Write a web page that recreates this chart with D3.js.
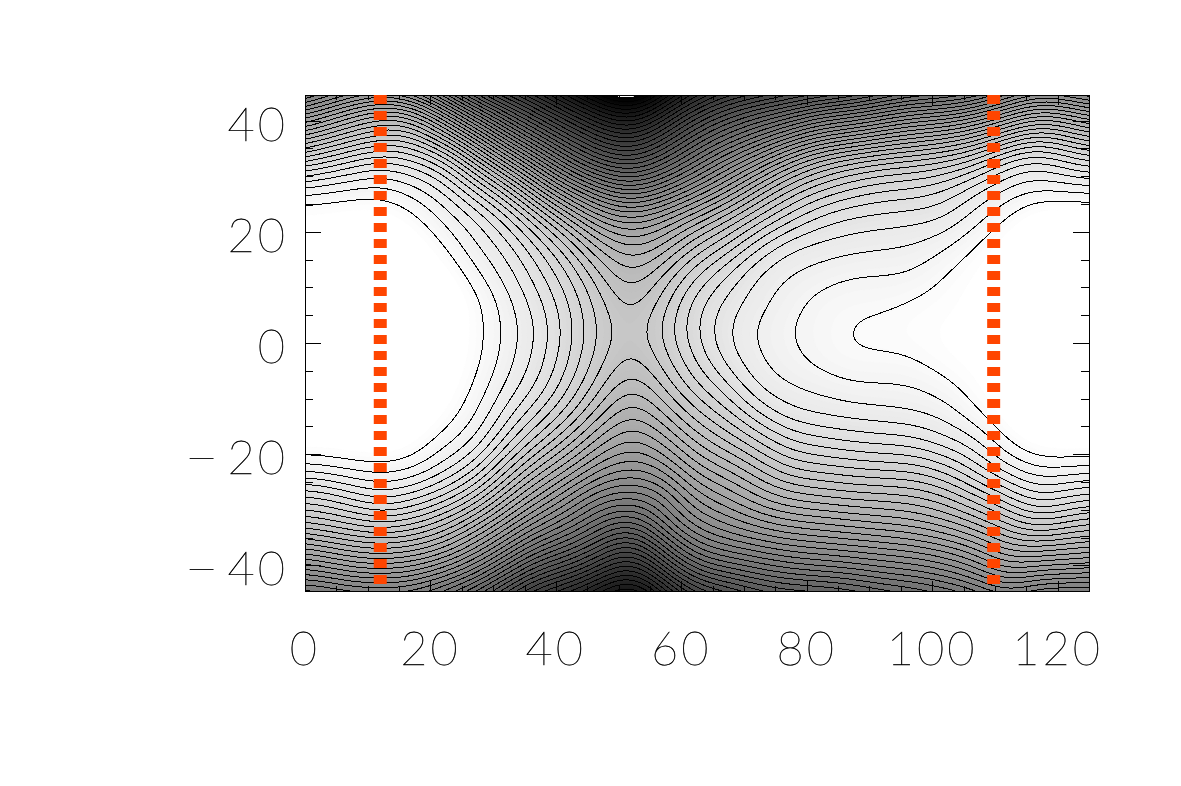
<!DOCTYPE html>
<html><head><meta charset="utf-8">
<script src="https://cdn.jsdelivr.net/npm/d3@7"></script>
<style>
html,body{margin:0;padding:0;background:#fff;overflow:hidden}
svg{display:block}
.lbl{filter:grayscale(1)}
.lbl text{font-family:Lato,Roboto,sans-serif;font-weight:100;font-size:47px;fill:#000;stroke:#000;stroke-width:0.45px;letter-spacing:3px;text-rendering:geometricPrecision}
</style></head><body>
<script>
// Axis tick labels
const xMajor = [0,20,40,60,80,100,120];
const xMinor = [5,10,15,25,30,35,45,50,55,65,70,75,85,90,95,105,110,115,125];
const yMajor = [-40,-20,0,20,40];
const yMinor = [-35,-30,-25,-15,-10,-5,5,10,15,25,30,35];
// Positions of the two dashed markers
const markers = [12,109.8];
// Field sample positions
const gridX = [-3,2,7,12,17,22,27,32,37,42,47,52,57,62,67,72,77,82,87,92,97,102,107,112,117,122,127];
const gridY = [47.5,42.5,37.5,32.5,27.5,22.5,17.5,12.5,7.5,2.5,-2.5,-7.5,-12.5,-17.5,-22.5,-27.5,-32.5,-37.5,-42.5,-47.5];
// Field values per row, in units of one contour interval
const rowP475 = [29,27,25,24,26,30,35,39,42,46,50,53,48,43,40,38.5,37,36,35,33,31.5,31,30,27,25,26,27];
const rowP425 = [22,20,17.5,15.6,16.5,21.5,27,31.5,35.5,39.5,43,45.6,41,36.5,33.5,31.5,30,28,27,25.5,24,23.5,22,19.5,17,18,20];
const rowP375 = [15,13.5,11.5,10,10.2,14,19,24.5,29,33,36.5,38.4,35,31,28,25.5,23,20.5,19.5,18,16.8,16,14.5,12,10,11.5,13];
const rowP325 = [8.5,7.3,5.8,4.6,5.6,7.3,12,17,22,27,30.5,32,29.5,26,22.5,19.5,16,13.5,12,11,10.5,9.7,8.3,5.5,4.5,6,7];
const rowP275 = [2.6,2.2,1.8,1.5,2.4,4,7,10.5,15.5,20,23.5,25.5,23.5,20.5,17.5,14,11,9,7.8,7,6.7,6,4.2,2.7,2,2.2,2.3];
const rowP225 = [0.2,0,-0.2,-0.3,0.6,2.2,4,6.4,10,14,17.5,19,17.5,15,12.5,9.8,7.5,5.7,4.9,4.6,4.4,4,2.4,0.95,-0.5,-0.5,-0.5];
const rowP175 = [-1,-1,-1,-1,-0.5,0.9,2.8,4.5,7,10,13.5,15.2,14,11,9,6.3,4.3,3.7,3.4,3.15,2.95,2.2,0.95,-0.3,-1,-1,-1];
const rowP125 = [-1,-1,-1,-1,-1,-0.3,1.7,3.4,5.6,8,11,13.1,11.2,8.3,6.3,4,3.05,2.6,2.1,2.05,1.95,1,0.2,-0.5,-1,-1,-1];
const rowP75  = [-1,-1,-1,-1,-1,-1,0.6,2.6,4.6,7,9.7,11.7,9.6,6.7,4.8,3.4,2.5,1.65,1.3,1.3,0.9,0.5,0,-0.5,-1,-1,-1];
const rowP25  = [-1,-1,-1.5,-1.5,-1,-0.7,0.4,2.3,4.05,6.6,9.3,10.9,8.9,6.25,4.2,2.9,2.1,1.45,0.95,0.7,0.5,0.2,0,-0.3,-0.5,-0.5,-0.5];
const rowM25  = [-1,-1,-1.5,-1.5,-1,-0.7,0.5,2.5,4.3,6.9,9.6,11.4,9.5,6.9,4.6,3.1,2.35,1.6,1.1,1.1,0.97,0.3,0,-0.3,-0.5,-0.5,-0.5];
const rowM75  = [-1,-1,-1,-1,-1,-0.5,1.05,3.1,5,7.8,10.6,13,10.8,8.3,6.3,3.8,3,2.6,2.1,2.05,1.97,1.3,0.3,-0.5,-1,-1,-1];
const rowM125 = [-1,-1,-1,-1,-1,0.2,1.75,4.3,6.8,9.5,12.6,15.1,13,10.3,8.5,6,4.3,3.85,3.5,3.3,3.05,2.6,1.15,-0.3,-1,-1,-1];
const rowM175 = [-0.5,-0.3,-0.5,-0.7,-0.1,1.55,2.9,6.3,9.5,12.3,15.5,17.3,15.7,12.8,11,9,7,6.3,5.8,5.5,5.3,4.2,3.2,0.85,-0.3,-0.5,-0.5];
const rowM225 = [2.5,2.3,1.7,1.4,1.75,3.5,5.5,9.5,13,15.8,18.8,20,18.8,15.5,14,12,10,9.5,9,8.7,8.5,7.5,5.4,3.2,1.9,2.1,2.3];
const rowM275 = [7,6.9,5.6,4.4,5.3,6.9,9.5,13.5,17,20,23,23.7,22.5,18.5,17,15,13.5,13,12.5,12.3,12,11,9,7,4.9,6,6.5];
const rowM325 = [11.5,10.8,10,9,9.8,11.6,14.5,18,21.5,24,27,29,25,21.5,20,18.5,17.5,17,16.5,16,15.5,14.5,13,11,9.2,10.5,11];
const rowM375 = [17,16.3,15,14.5,15,16.5,19.5,23,27,29,32,35,30,25.5,24,23,22,21.5,21,20.5,20,19,17.5,15,15,15.5,16];
const rowM425 = [22,21.8,20.5,20,20.5,22.5,25,29,33,35,38,41,36,31,29.5,28,27,26.5,26,25,24.5,23.5,22,19.5,21,21,21.5];
const rowM475 = [27,27,26,26,26,28,31,35,39,41,44,47,42,37,35,33,32,32,31,30,29,28,27,25,27,27,27];
const field = [rowP475,rowP425,rowP375,rowP325,rowP275,rowP225,rowP175,rowP125,rowP75,rowP25,rowM25,rowM75,rowM125,rowM175,rowM225,rowM275,rowM325,rowM375,rowM425,rowM475];

const W=1181,H=786, L=305,R=1089,T=95,B=591;
const x=d3.scaleLinear().domain([0,125]).range([L,R]);
const y=d3.scaleLinear().domain([-44.6,44.6]).range([B,T]);
const gray=d3.scaleLinear().domain([0,47]).range([255,0]).clamp(true);
const shade=v=>{const g=Math.round(gray(v));return `rgb(${g},${g},${g})`;};

const svg=d3.select('body').append('svg').attr('width',W).attr('height',H);
svg.append('defs').append('clipPath').attr('id','plot').append('rect')
  .attr('x',L).attr('y',T).attr('width',R-L).attr('height',B-T);

// Smooth the sampled field for drawing
const K=8, nc=gridX.length, nr=gridY.length;
const cr=(a,b,c,d,t)=>0.5*((2*b)+(c-a)*t+(2*a-5*b+4*c-d)*t*t+(3*b-a-3*c+d)*t*t*t);
const at=(i,j)=>field[Math.max(0,Math.min(nr-1,j))][Math.max(0,Math.min(nc-1,i))];
const gw=(nc-1)*K+1, gh=(nr-1)*K+1, fine=new Float64Array(gw*gh);
for(let j=0;j<gh;j++){const jj=Math.min(nr-2,Math.floor(j/K)),v=j/K-jj;
  for(let i=0;i<gw;i++){const ii=Math.min(nc-2,Math.floor(i/K)),u=i/K-ii;
    const p=[-1,0,1,2].map(d=>cr(at(ii-1,jj+d),at(ii,jj+d),at(ii+1,jj+d),at(ii+2,jj+d),u));
    fine[j*gw+i]=cr(p[0],p[1],p[2],p[3],v);
  }}
d3.blur2({data:fine,width:gw,height:gh},3.5,3);
const cols=d3.scaleLinear().domain([0,nc-1]).range([gridX[0],gridX[nc-1]]);
const rows=d3.scaleLinear().domain([0,nr-1]).range([gridY[0],gridY[nr-1]]);
const proj=d3.geoTransform({point(px,py){this.stream.point(x(cols((px-0.5)/K)),y(rows((py-0.5)/K)));}});
const path=d3.geoPath(proj);
const contours=d3.contours().size([gw,gh]).smooth(true);

const g=svg.append('g').attr('clip-path','url(#plot)');
g.append('rect').attr('x',L).attr('y',T).attr('width',R-L).attr('height',B-T).attr('fill','#fff');
const bands=d3.range(0.3,47.05,0.33);
g.selectAll('path.band').data(bands).join('path').attr('class','band')
  .attr('d',t=>path(contours.contour(fine,t))).attr('fill',t=>shade(t+0.16)).attr('stroke',t=>shade(t+0.16)).attr('stroke-width',0.3);
g.append('path').attr('d',path(contours.contour(fine,47.05))).attr('fill','#fff');
const levels=d3.range(1,48);
g.selectAll('path.line').data(levels).join('path').attr('class','line')
  .attr('d',t=>path(contours.contour(fine,t))).attr('fill','none').attr('stroke','#000')
  .attr('stroke-width',1).attr('shape-rendering','crispEdges');

// Axes
const tick=(sel,axisFn,vals,size)=>{const a=axisFn.tickValues(vals).tickSize(size).tickFormat('');
  sel.call(a);sel.select('.domain').remove();sel.selectAll('line').attr('stroke','#000').attr('shape-rendering','crispEdges');};
tick(svg.append('g').attr('transform',`translate(${L},0)`),d3.axisLeft(y),yMajor,-16);
tick(svg.append('g').attr('transform',`translate(${L},0)`),d3.axisLeft(y),yMinor,-8);
tick(svg.append('g').attr('transform',`translate(${R},0)`),d3.axisRight(y),yMajor,-16);
tick(svg.append('g').attr('transform',`translate(${R},0)`),d3.axisRight(y),yMinor,-8);
tick(svg.append('g').attr('transform',`translate(0,${B})`),d3.axisBottom(x),xMajor,-10);
tick(svg.append('g').attr('transform',`translate(0,${B})`),d3.axisBottom(x),xMinor,-5);
tick(svg.append('g').attr('transform',`translate(0,${T})`),d3.axisTop(x),xMajor,-10);
tick(svg.append('g').attr('transform',`translate(0,${T})`),d3.axisTop(x),xMinor,-5);
svg.append('rect').attr('x',L).attr('y',T).attr('width',R-L).attr('height',B-T)
  .attr('fill','none').attr('stroke','#000').attr('shape-rendering','crispEdges');

// Dashed markers
svg.selectAll('line.marker').data(markers).join('line').attr('class','marker')
  .attr('x1',d=>x(d)).attr('x2',d=>x(d)).attr('y1',T).attr('y2',B)
  .attr('stroke','#ff4500').attr('stroke-width',13).attr('stroke-dasharray','9 7');

// Labels
const lab=svg.append('g').attr('class','lbl');
lab.selectAll('text.xl').data(xMajor).join('text').attr('class','xl')
  .attr('x',d=>x(d)).attr('y',665).attr('text-anchor','middle').text(d=>d);
const yl=lab.selectAll('text.yl').data(yMajor).join('text').attr('class','yl')
  .attr('x',288).attr('y',d=>y(d)+20).attr('text-anchor','end');
yl.filter(d=>d<0).append('tspan').attr('font-size','58px').attr('dy',4).attr('letter-spacing','9px').text('\u2212');
yl.append('tspan').attr('dy',d=>d<0?-4:0).text(d=>Math.abs(d));
</script></body></html>
